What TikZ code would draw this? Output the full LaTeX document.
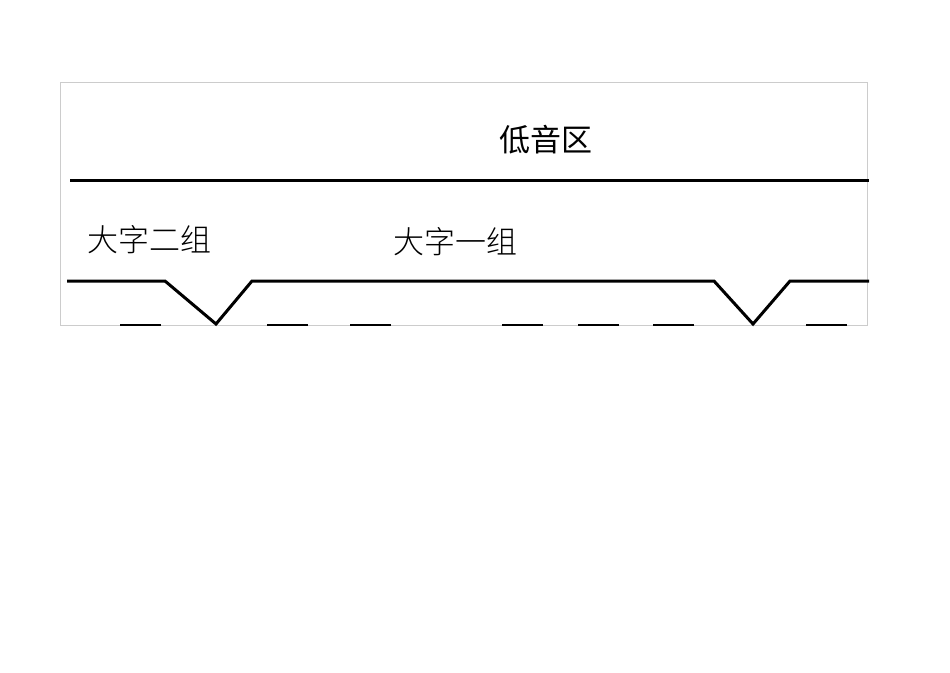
\documentclass[tikz,border=0pt]{standalone}
\usepackage{fontspec}
\newfontfamily\cjk{Noto Sans CJK SC}
\newfontfamily\cjkl{Noto Sans CJK SC Light}
\begin{document}
\begin{tikzpicture}[x=1pt,y=-1pt,
  rule/.style={line width=3pt},
  dashline/.style={line width=2.5pt},
  lbl/.style={inner sep=0pt,font=\cjk\fontsize{31}{31}\selectfont}]
\useasboundingbox (0,0) rectangle (950,672);
\draw[gray!40,line width=1pt] (60,82) rectangle (867,325);
\node[lbl] (title) at (546,140) {低音区};
\node[lbl,font=\cjkl\fontsize{31}{31}\selectfont] (g2) at (149,240) {大字二组};
\node[lbl,font=\cjkl\fontsize{31}{31}\selectfont] (g1) at (455,242) {大字一组};
\coordinate (t1) at (70,180); \coordinate (t2) at (869,180);
\draw[rule] (t1) -- (t2);
\coordinate (b0) at (67,281); \coordinate (b1) at (165,281); \coordinate (v1) at (216,324);
\coordinate (b2) at (252,281); \coordinate (b3) at (714,281); \coordinate (v2) at (753,324);
\coordinate (b4) at (790,281); \coordinate (b5) at (869,281);
\draw[rule,line join=miter] (b0) -- (b1) -- (v1) -- (b2) -- (b3) -- (v2) -- (b4) -- (b5);
\foreach \a in {120,267,350,502,578,653,806}
  \draw[dashline] (\a,325) -- ++(41,0);
\end{tikzpicture}
\end{document}
